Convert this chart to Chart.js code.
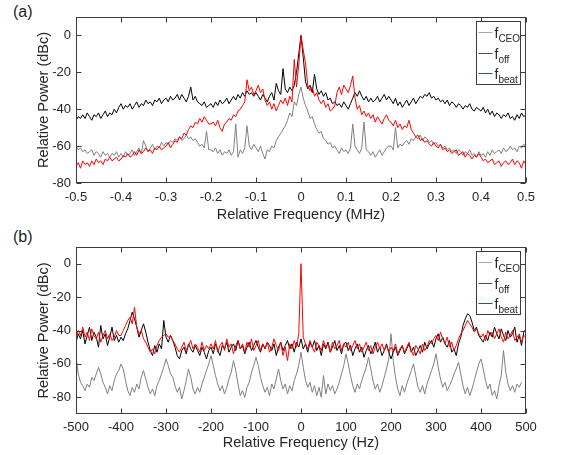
<!DOCTYPE html>
<html>
<head>
<meta charset="utf-8">
<script src="https://cdn.jsdelivr.net/npm/chart.js@4.4.0/dist/chart.umd.min.js"></script>
<style>
  body { margin: 0; background: #fff; width: 581px; height: 455px; position: relative; overflow: hidden; }
  canvas { position: absolute; left: 0; }
  #chartA { top: 0; }
  #chartB { top: 228px; }
  .tag { position: absolute; left: 13px; font: 16px "Liberation Sans", Arial, sans-serif; color: #262626; }
</style>
</head>
<body>
<div class="tag" style="top:3px">(a)</div>
<div class="tag" style="top:228px">(b)</div>
<canvas id="chartA" width="581" height="228"></canvas>
<canvas id="chartB" width="581" height="227"></canvas>
<script>
// sample grids (MHz for a, Hz for b)
const freqA = [];
for (let i = 0; i <= 200; i++) freqA.push(Math.round((-0.5 + i * 0.005) * 1000) / 1000);
const freqB = [];
for (let i = 0; i <= 200; i++) freqB.push(-500 + i * 5);

const xTicksA = [-0.5, -0.4, -0.3, -0.2, -0.1, 0, 0.1, 0.2, 0.3, 0.4, 0.5];
const xTicksB = [-500, -400, -300, -200, -100, 0, 100, 200, 300, 400, 500];
const yTicks = [-80, -60, -40, -20, 0];

// (a) spectra, dBc
const ceoA = [
  -60,-62,-61,-63,-62,-64,-63,-62,-65,-63,-64,-66,-63,-65,-64,-66,-64,-65,-63,-66,
  -64,-66,-63,-65,-64,-62,-65,-63,-61,-64,-57,-60,-63,-61,-59,-62,-60,-61,-58,-60,
  -58,-59,-57,-58,-56,-57,-55,-57,-56,-54,-56,-55,-57,-56,-58,-60,-59,-61,-52,-62,
  -62,-63,-61,-64,-62,-65,-63,-64,-62,-65,-63,-48,-66,-62,-64,-61,-49,-60,-62,-59,
  -61,-63,-60,-64,-67,-62,-63,-60,-61,-57,-55,-53,-51,-49,-46,-42,-44,-36,-38,-32,
  -28,-34,-38,-41,-45,-44,-48,-51,-53,-52,-56,-57,-59,-58,-61,-60,-62,-64,-61,-63,
  -62,-64,-61,-48,-60,-62,-64,-61,-47,-62,-63,-65,-63,-66,-64,-62,-65,-63,-61,-60,
  -60,-62,-50,-61,-59,-60,-58,-57,-59,-56,-57,-55,-56,-54,-57,-55,-56,-58,-57,-59,
  -58,-60,-59,-61,-60,-62,-61,-63,-62,-64,-62,-63,-65,-63,-64,-62,-65,-64,-66,-63,
  -65,-64,-66,-63,-65,-62,-64,-63,-62,-64,-61,-63,-62,-60,-62,-61,-63,-60,-61,-59,
  -60
];
const offA = [
  -46,-44,-45,-43,-45,-42,-44,-46,-43,-44,-42,-45,-43,-41,-44,-42,-43,-40,-42,-39,
  -37,-40,-38,-39,-37,-40,-38,-36,-39,-37,-38,-35,-37,-36,-38,-35,-36,-34,-37,-35,
  -34,-36,-33,-35,-34,-32,-35,-32,-34,-36,-33,-28,-35,-33,-36,-37,-38,-36,-39,-38,
  -37,-39,-36,-38,-35,-37,-36,-34,-37,-35,-33,-35,-32,-34,-31,-33,-30,-32,-31,-33,
  -31,-33,-35,-32,-34,-36,-33,-31,-35,-26,-30,-32,-18,-29,-31,-28,-30,-27,-20,-10,
  0,-12,-25,-29,-27,-31,-21,-29,-32,-30,-33,-31,-35,-34,-37,-36,-38,-37,-39,-36,
  -38,-40,-37,-34,-31,-33,-30,-33,-35,-33,-36,-34,-36,-35,-33,-36,-34,-32,-35,-33,
  -35,-37,-34,-38,-36,-39,-37,-35,-38,-36,-34,-37,-35,-33,-34,-32,-33,-31,-34,-33,
  -35,-34,-36,-35,-37,-35,-38,-36,-37,-39,-37,-38,-40,-38,-39,-37,-40,-41,-39,-40,
  -41,-39,-42,-40,-43,-41,-44,-42,-43,-45,-43,-44,-42,-45,-44,-46,-43,-45,-42,-44,
  -43
];
const beatA = [
  -71,-69,-72,-68,-70,-69,-71,-68,-70,-67,-69,-68,-70,-67,-68,-66,-68,-67,-66,-68,
  -67,-65,-66,-64,-66,-65,-63,-65,-62,-64,-63,-61,-63,-62,-64,-61,-62,-60,-62,-61,
  -60,-58,-61,-59,-57,-58,-55,-56,-53,-54,-51,-49,-50,-47,-48,-45,-47,-44,-46,-48,
  -48,-47,-49,-46,-50,-52,-48,-47,-45,-46,-43,-44,-41,-40,-38,-36,-24,-30,-28,-32,
  -30,-27,-31,-29,-35,-38,-36,-40,-37,-41,-38,-35,-37,-34,-38,-33,-36,-13,-28,-16,
  0,-8,-15,-27,-30,-28,-33,-31,-35,-37,-35,-39,-37,-41,-40,-38,-31,-28,-32,-27,
  -29,-31,-27,-22,-34,-40,-38,-43,-41,-44,-42,-45,-43,-47,-44,-46,-48,-45,-43,-46,
  -47,-49,-46,-50,-48,-51,-49,-50,-46,-51,-53,-55,-54,-57,-56,-58,-57,-59,-60,-58,
  -60,-61,-59,-62,-61,-63,-62,-64,-63,-62,-65,-64,-63,-66,-64,-65,-67,-65,-66,-64,
  -66,-68,-67,-69,-68,-67,-70,-69,-68,-71,-69,-68,-70,-69,-67,-70,-68,-69,-72,-68,
  -70
];

// (b) spectra, dBc (ceo trace stops at 490 Hz)
const ceoB = [
  -56,-66,-71,-73,-76,-72,-74,-68,-70,-66,-62,-66,-71,-74,-78,-73,-76,-70,-66,-64,
  -60,-63,-70,-76,-79,-74,-77,-72,-75,-68,-64,-69,-74,-78,-75,-79,-73,-70,-66,-62,
  -57,-61,-66,-68,-73,-77,-74,-81,-76,-70,-63,-68,-75,-78,-74,-77,-72,-68,-64,-60,
  -55,-61,-67,-72,-76,-73,-78,-74,-69,-65,-58,-64,-72,-79,-76,-80,-74,-71,-65,-61,
  -56,-61,-68,-73,-77,-74,-79,-72,-75,-69,-63,-70,-75,-72,-78,-73,-76,-70,-66,-61,
  -53,-62,-70,-74,-71,-77,-73,-79,-74,-80,-67,-78,-72,-76,-73,-78,-75,-71,-66,-61,
  -54,-60,-67,-73,-77,-72,-75,-70,-66,-62,-56,-63,-70,-75,-72,-77,-73,-68,-63,-57,
  -42,-58,-68,-75,-79,-73,-77,-72,-68,-64,-60,-67,-74,-77,-73,-78,-72,-68,-64,-60,
  -54,-62,-69,-74,-71,-76,-73,-70,-66,-63,-59,-66,-73,-78,-74,-79,-75,-70,-65,-60,
  -57,-63,-70,-75,-72,-79,-76,-81,-73,-67,-52,-65,-72,-76,-73,-77,-72,-74,-71
];
const offB = [
  -47,-42,-45,-40,-48,-43,-38,-46,-41,-44,-50,-37,-45,-42,-49,-44,-38,-46,-43,-47,
  -44,-46,-42,-39,-34,-29,-33,-38,-44,-40,-36,-41,-47,-52,-55,-49,-53,-48,-51,-34,
  -44,-47,-43,-46,-50,-55,-57,-52,-50,-54,-48,-51,-53,-49,-52,-55,-50,-53,-57,-52,
  -50,-54,-48,-52,-55,-49,-51,-47,-53,-50,-48,-52,-46,-51,-49,-54,-50,-47,-52,-49,
  -46,-50,-53,-48,-51,-47,-49,-52,-48,-55,-50,-47,-52,-49,-46,-51,-48,-53,-47,-50,
  -45,-51,-48,-53,-47,-50,-46,-52,-49,-55,-48,-51,-47,-53,-50,-46,-52,-49,-54,-48,
  -47,-52,-49,-55,-51,-48,-53,-50,-56,-52,-49,-54,-51,-47,-53,-50,-55,-52,-48,-53,
  -57,-53,-50,-55,-52,-49,-54,-51,-48,-53,-50,-55,-52,-49,-53,-47,-51,-48,-46,-50,
  -45,-42,-47,-44,-48,-50,-46,-53,-51,-55,-48,-44,-37,-33,-30,-31,-35,-40,-38,-43,
  -45,-47,-43,-46,-41,-44,-38,-42,-45,-39,-43,-46,-40,-44,-42,-38,-47,-43,-49,-41,
  -39
];
const beatB = [
  -45,-40,-43,-38,-44,-41,-46,-39,-43,-45,-41,-47,-43,-40,-45,-42,-46,-44,-40,-43,
  -43,-40,-37,-34,-32,-36,-26,-38,-42,-40,-45,-47,-50,-53,-51,-54,-49,-46,-44,-43,
  -42,-44,-43,-46,-48,-51,-53,-50,-47,-52,-49,-46,-51,-48,-50,-53,-47,-52,-49,-51,
  -48,-51,-46,-53,-49,-47,-52,-45,-50,-48,-54,-49,-46,-51,-48,-53,-47,-50,-45,-52,
  -49,-46,-52,-48,-51,-47,-53,-50,-45,-49,-52,-47,-55,-50,-58,-48,-51,-46,-50,-42,
  0,-44,-48,-51,-46,-50,-53,-47,-49,-52,-46,-50,-48,-53,-47,-51,-49,-46,-52,-48,
  -50,-47,-52,-49,-46,-51,-48,-53,-50,-47,-52,-49,-54,-50,-47,-51,-48,-52,-49,-53,
  -50,-52,-48,-54,-51,-49,-53,-50,-47,-52,-55,-49,-51,-54,-48,-52,-50,-46,-48,-45,
  -43,-46,-41,-45,-48,-44,-50,-47,-52,-49,-45,-42,-40,-37,-34,-36,-38,-41,-39,-42,
  -44,-42,-46,-40,-43,-41,-45,-42,-39,-44,-47,-41,-45,-43,-40,-46,-44,-42,-47,-43,
  -44
];

const FONT = '"Liberation Sans", Arial, Helvetica, sans-serif';
const TXT = '#262626';
const AXIS = '#3c3c3c';

const legendItems = [
  { sub: 'CEO', color: '#a8a8a8' },
  { sub: 'off', color: '#505050' },
  { sub: 'beat', color: '#ff0000' }
];

function framePlugin(xTicks) {
  return {
    id: 'frame',
    afterDatasetsDraw(chart) {
      const { ctx, chartArea: a, scales } = chart;
      const L = Math.round(a.left) + 0.5, R = Math.round(a.right) - 0.5;
      const T = Math.round(a.top) + 0.5, B = Math.round(a.bottom) - 0.5;
      ctx.save();
      ctx.strokeStyle = AXIS;
      ctx.lineWidth = 1;
      ctx.beginPath();
      xTicks.forEach(v => {
        const px = Math.round(scales.x.getPixelForValue(v)) + 0.5;
        ctx.moveTo(px, B); ctx.lineTo(px, B - 5);
        ctx.moveTo(px, T); ctx.lineTo(px, T + 5);
      });
      yTicks.forEach(v => {
        const py = Math.round(scales.y.getPixelForValue(v)) + 0.5;
        ctx.moveTo(L, py); ctx.lineTo(L + 5, py);
        ctx.moveTo(R, py); ctx.lineTo(R - 5, py);
      });
      ctx.stroke();
      ctx.strokeRect(L, T, R - L, B - T);

      // legend box
      const bx = Math.round(a.right) - 49.5, by = Math.round(a.top) + 4.5;
      const bw = 44, bh = 63;
      ctx.fillStyle = '#fff';
      ctx.fillRect(bx, by, bw, bh);
      ctx.strokeRect(bx, by, bw, bh);
      legendItems.forEach((it, i) => {
        const ry = Math.round(by + 10.5 + i * 20.7) + 0.5;
        ctx.strokeStyle = it.color;
        ctx.beginPath();
        ctx.moveTo(bx + 2, ry);
        ctx.lineTo(bx + 16, ry);
        ctx.stroke();
        ctx.fillStyle = TXT;
        ctx.textBaseline = 'alphabetic';
        ctx.textAlign = 'left';
        ctx.font = '14px ' + FONT;
        ctx.fillText('f', bx + 18, ry + 5);
        const fw = ctx.measureText('f').width;
        ctx.font = '10px ' + FONT;
        ctx.fillText(it.sub, bx + 18 + fw, ry + 9);
      });
      ctx.restore();
    }
  };
}

function makeChart(id, freq, ceo, off, beat, o) {
  const pts = arr => arr.map((v, i) => ({ x: freq[i], y: v }));
  const line = (label, data, color) => ({
    label, data: pts(data), borderColor: color, borderWidth: 1,
    pointRadius: 0, tension: 0, fill: false
  });
  return new Chart(document.getElementById(id), {
    type: 'line',
    data: {
      datasets: [
        line('f_beat', beat, '#ff0000'),
        line('f_off', off, '#000000'),
        line('f_CEO', ceo, '#808080')
      ]
    },
    options: {
      responsive: false,
      animation: false,
      events: [],
      layout: { padding: { left: 0, right: 55, top: o.top, bottom: 0 } },
      plugins: { legend: { display: false }, tooltip: { enabled: false } },
      scales: {
        x: {
          type: 'linear', min: o.xTicks[0], max: o.xTicks[o.xTicks.length - 1],
          afterBuildTicks: s => { s.ticks = o.xTicks.map(v => ({ value: v })); },
          afterFit: s => { s.height = o.xH; },
          grid: { display: false, drawTicks: false },
          border: { display: false },
          ticks: { padding: o.xPad, color: TXT, font: { family: FONT, size: 13 },
                   autoSkip: false, maxRotation: 0, callback: v => String(v) },
          title: { display: true, text: o.xTitle, color: TXT,
                   font: { family: FONT, size: 14.5 }, padding: { top: 0, bottom: o.titlePad } }
        },
        y: {
          min: o.yMin, max: 10,
          afterBuildTicks: s => { s.ticks = yTicks.map(v => ({ value: v })); },
          afterFit: s => { s.width = 76; },
          grid: { display: false, drawTicks: false },
          border: { display: false },
          ticks: { padding: 5, color: TXT, font: { family: FONT, size: 13 }, callback: v => String(v) },
          title: { display: true, text: 'Relative Power (dBc)', color: TXT,
                   font: { family: FONT, size: 14.5 }, padding: { top: 35, bottom: 0 } }
        }
      }
    },
    plugins: [framePlugin(o.xTicks)]
  });
}

makeChart('chartA', freqA, ceoA, offA, beatA, {
  top: 17, xH: 45, xPad: 7, titlePad: 4.3, yMin: -80,
  xTicks: xTicksA, xTitle: 'Relative Frequency (MHz)'
});
makeChart('chartB', freqB, ceoB, offB, beatB, {
  top: 19, xH: 41, xPad: 6, titlePad: 3.3, yMin: -90,
  xTicks: xTicksB, xTitle: 'Relative Frequency (Hz)'
});
</script>
</body>
</html>
